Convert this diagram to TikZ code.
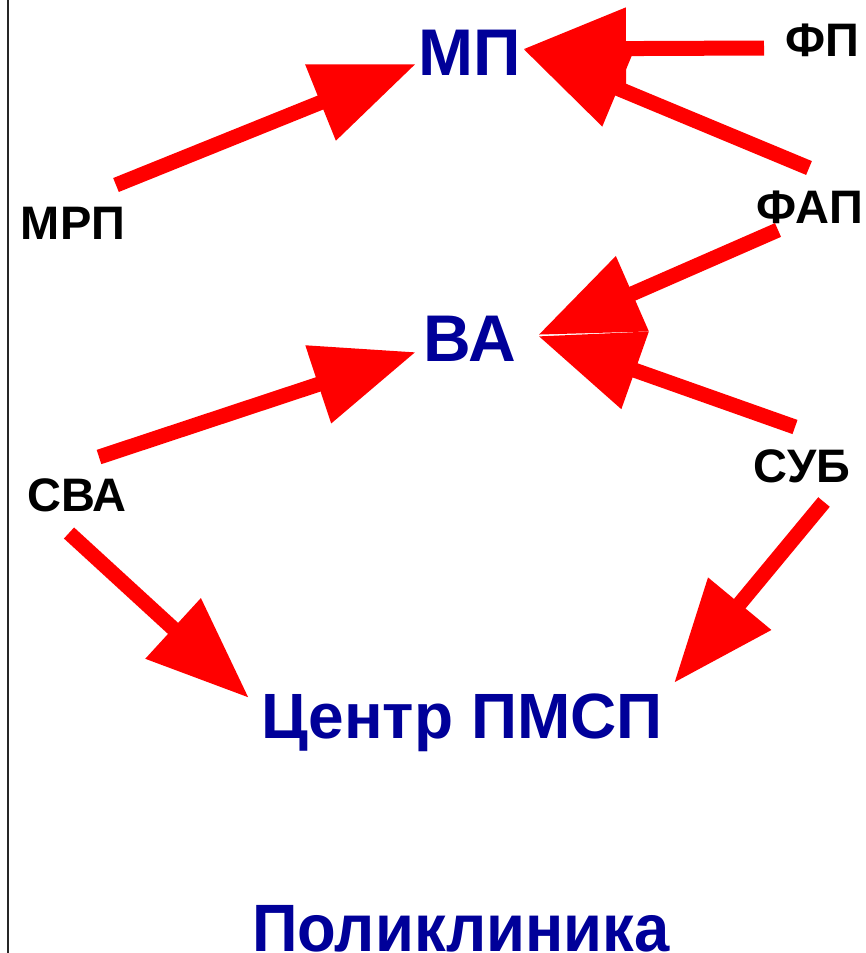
\documentclass[tikz,border=0pt]{standalone}
\usepackage{fontspec}
\setmainfont{Liberation Sans}
\usepackage{xcolor}
\usepackage{tikz}
\usetikzlibrary{arrows.meta}
\definecolor{hubBlue}{HTML}{000099}
\definecolor{linkRed}{HTML}{FF0000}

\begin{document}
\begin{tikzpicture}[
  x=1pt,y=-1pt,
  >={Triangle[length=103pt,width=78pt]},
  every node/.style={inner sep=0pt,anchor=base,font=\bfseries},
  src/.style={font=\bfseries\fontsize{47}{55}\selectfont,text=black},
  hub/.style={font=\bfseries\fontsize{66}{76}\selectfont,text=hubBlue},
  link/.style={->,draw=linkRed,line width=15pt},
]
  \useasboundingbox (0,0) rectangle (866,953);
  \draw[line width=1.2pt,black!85] (8,0) -- (8,953);

  \node[hub] (mp) at (470,75) {МП};
  \node[src] (fp) at (822,56) {ФП};
  \node[src] (mrp) at (73,239) {МРП};
  \node[src] (fap) at (810,223) {ФАП};
  \node[hub] (va) at (470,361) {ВА};
  \node[src] (sva) at (77,511) {СВА};
  \node[src] (sub) at (802,482) {СУБ};
  \node[hub,font=\bfseries\fontsize{64}{74}\selectfont] (pmsp) at (462,738) {Центр ПМСП};
  \node[hub,font=\bfseries\fontsize{67}{78}\selectfont,xscale=0.945] (poly) at (461,951) {Поликлиника};

  \draw[link] ([shift={(43,-54)}]mrp.base) -- ([shift={(-54,-11)}]mp.base);
  \draw[link] ([shift={(-58,-8)}]fp.base) -- ([shift={(53,-26)}]mp.base);
  \draw[link] ([shift={(-1,-55)}]fap.base) -- ([shift={(53,-26)}]mp.base);
  \draw[link] ([shift={(-32,7)}]fap.base) -- ([shift={(68,-26)}]va.base);
  \draw[link] ([shift={(-7,-55)}]sub.base) -- ([shift={(68,-25)}]va.base);
  \draw[link] ([shift={(22,-54)}]sva.base) -- ([shift={(-54,-9)}]va.base);
  \draw[link] ([shift={(-8,22)}]sva.base) -- ([shift={(-213,-40)}]pmsp.base);
  \draw[link] ([shift={(22,20)}]sub.base) -- ([shift={(212,-55)}]pmsp.base);
\end{tikzpicture}
\end{document}
